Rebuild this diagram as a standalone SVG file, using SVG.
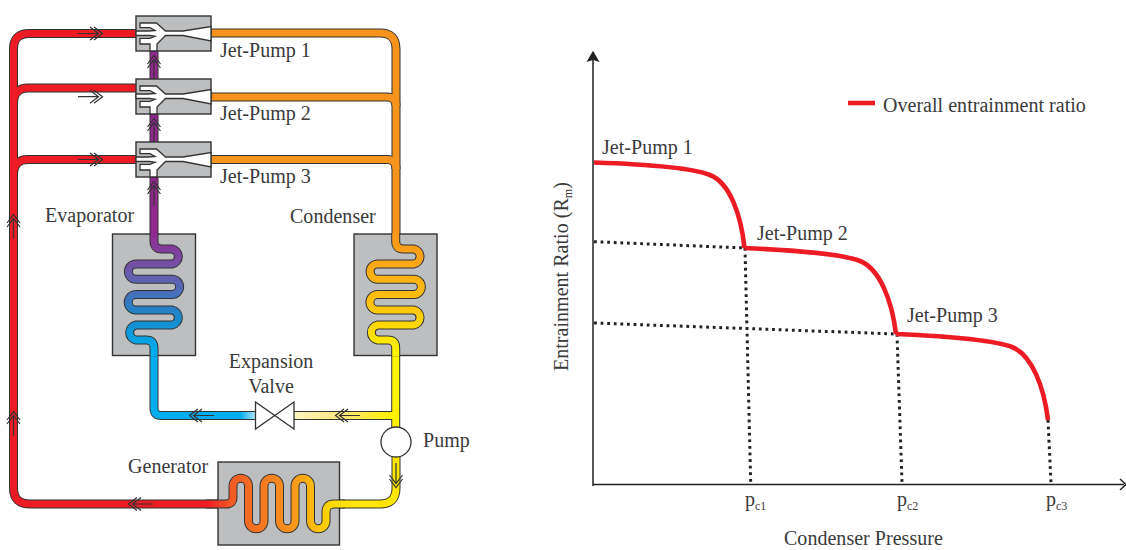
<svg xmlns="http://www.w3.org/2000/svg" xmlns:xlink="http://www.w3.org/1999/xlink" width="1126" height="550" viewBox="0 0 1126 550">
<style>
text{font-family:"Liberation Serif","Times New Roman",serif;font-size:20px;letter-spacing:.03px;fill:#3a3a3a}
.sub{font-size:12px;letter-spacing:0}
.out{fill:none;stroke:#333;stroke-width:9}
.pipe{fill:none;stroke-width:7}
.box{fill:#bcbec0;stroke:#333;stroke-width:1.4}
.dot{fill:none;stroke:#222;stroke-width:3;stroke-dasharray:2.8 3.8}
.curve{fill:none;stroke:#ed1c24;stroke-width:4.6}
.ax{fill:none;stroke:#222;stroke-width:1.5}
.arw{fill:none;stroke:#333;stroke-width:1.2}
</style>
<defs>
<linearGradient id="gGen" gradientUnits="userSpaceOnUse" x1="208" y1="0" x2="335" y2="0"><stop offset="0" stop-color="#ed1c24"/><stop offset=".18" stop-color="#f15a24"/><stop offset=".65" stop-color="#f7941d"/><stop offset="1" stop-color="#ffde00"/></linearGradient>
<linearGradient id="gEva" gradientUnits="userSpaceOnUse" x1="0" y1="232" x2="0" y2="352"><stop offset="0" stop-color="#92278f"/><stop offset=".35" stop-color="#6a5cac"/><stop offset=".7" stop-color="#1c87c9"/><stop offset="1" stop-color="#00aeef"/></linearGradient>
<linearGradient id="gCon" gradientUnits="userSpaceOnUse" x1="0" y1="232" x2="0" y2="352"><stop offset="0" stop-color="#f7941d"/><stop offset=".6" stop-color="#ffc20e"/><stop offset="1" stop-color="#fff200"/></linearGradient>
<linearGradient id="gPale" gradientUnits="userSpaceOnUse" x1="294" y1="0" x2="392" y2="0"><stop offset="0" stop-color="#fdf5c0"/><stop offset=".5" stop-color="#fbe77a"/><stop offset="1" stop-color="#fff200"/></linearGradient>
<linearGradient id="gBlue" gradientUnits="userSpaceOnUse" x1="240" y1="0" x2="256" y2="0"><stop offset="0" stop-color="#00aeef"/><stop offset="1" stop-color="#b5e6f8"/></linearGradient>
<g id="a"><path class="arw" d="M-23 0H-2M-11-6.5L-2.5 0L-11 6.5M-7-6.5L1.5 0L-7 6.5"/></g>
<g id="jet">
<rect class="box" x="136" y="16" width="75" height="35"/>
<path d="M140 23H156.5L165.5 31H183L211 26.5V41L183 35.5H165.5L157 44V51H150V44H140V38.3H150L155 36.2L150 35.5H136V31H148L155 30.5L150 27.7H140Z" fill="#fff" stroke="#333" stroke-width="1.3"/>
</g>
</defs>

<g id="connectors">
<path class="out" d="M218 504H30Q13.5 504 13.5 488V49Q13.5 33.5 29 33.5H136"/>
<path class="out" d="M13.5 104Q13.5 88 28 88H136"/>
<path class="out" d="M13.5 175Q13.5 159.5 28 159.5H136"/>
<path class="out" d="M211 33H380Q396 33 396 49V240"/>
<path class="out" d="M211 97H387Q396 97 396 106"/>
<path class="out" d="M211 159.5H387Q396 159.5 396 169"/>
<path class="out" d="M154 51V79M154 114V142M154 177V240"/>
<path class="out" d="M154 350V408Q154 415.5 161 415.5H256"/>
<path class="out" d="M294 415.5H396M395.7 350V430"/>
<path class="out" d="M396 455V488Q396 504 380 504H335"/>
<path class="pipe" stroke="#ed1c24" d="M218 504H30Q13.5 504 13.5 488V49Q13.5 33.5 29 33.5H136"/>
<path class="pipe" stroke="#ed1c24" d="M13.5 104Q13.5 88 28 88H136"/>
<path class="pipe" stroke="#ed1c24" d="M13.5 175Q13.5 159.5 28 159.5H136"/>
<path class="pipe" stroke="#f7941d" d="M211 33H380Q396 33 396 49V240"/>
<path class="pipe" stroke="#f7941d" d="M211 97H387Q396 97 396 106"/>
<path class="pipe" stroke="#f7941d" d="M211 159.5H387Q396 159.5 396 169"/>
<path class="pipe" stroke="#92278f" d="M154 51V79M154 114V142M154 177V240"/>
<path class="pipe" stroke="#00aeef" d="M154 350V408Q154 415.5 161 415.5H240"/>
<path class="pipe" stroke="url(#gBlue)" d="M239 415.5H256"/>
<path class="pipe" stroke="url(#gPale)" d="M294 415.5H396"/>
<path class="pipe" stroke="#fff200" d="M395.7 350V430"/>
<path class="pipe" stroke="#ffe600" d="M396 455V488Q396 504 380 504H335"/>
<use href="#a" transform="translate(101 33.5)"/>
<use href="#a" transform="translate(101 96.7)"/>
<use href="#a" transform="translate(101 159.5)"/>
<use href="#a" transform="translate(154 57) rotate(-90)"/>
<use href="#a" transform="translate(154 120) rotate(-90)"/>
<use href="#a" transform="translate(154 183) rotate(-90)"/>
<use href="#a" transform="translate(13.5 413) rotate(-90)"/>
<use href="#a" transform="translate(13.5 216) rotate(-90)"/>
<use href="#a" transform="translate(130 504) rotate(180)"/>
<use href="#a" transform="translate(191 415.5) rotate(180)"/>
<use href="#a" transform="translate(337 415.5) rotate(180)"/>
<use href="#a" transform="translate(396 486) rotate(90)"/>
</g>

<g id="jet-pump-1"><use href="#jet"/><text x="220" y="57">Jet-Pump 1</text></g>
<g id="jet-pump-2"><use href="#jet" y="63"/><text x="220" y="120">Jet-Pump 2</text></g>
<g id="jet-pump-3"><use href="#jet" y="126"/><text x="220" y="183">Jet-Pump 3</text></g>

<g id="evaporator">
<rect class="box" x="112.5" y="234" width="83" height="121.5"/>
<path class="out" d="M154 233V241Q154 249 162 249H172A7.6 7.6 0 0 1 172 264H136A7.6 7.6 0 0 0 136 279.2H172A7.6 7.6 0 0 1 172 294.5H136A7.6 7.6 0 0 0 136 310H172A7.6 7.6 0 0 1 172 325H136A7.6 7.6 0 0 0 136 340H146Q154 340 154 348V356"/>
<path class="pipe" stroke="url(#gEva)" d="M154 233V241Q154 249 162 249H172A7.6 7.6 0 0 1 172 264H136A7.6 7.6 0 0 0 136 279.2H172A7.6 7.6 0 0 1 172 294.5H136A7.6 7.6 0 0 0 136 310H172A7.6 7.6 0 0 1 172 325H136A7.6 7.6 0 0 0 136 340H146Q154 340 154 348V356"/>
<text x="45" y="222">Evaporator</text>
</g>

<g id="condenser">
<rect class="box" x="354" y="234" width="83" height="121.5"/>
<path class="out" d="M395.7 233V241Q395.7 249 403.7 249H413.7A7.6 7.6 0 0 1 413.7 264H377.7A7.6 7.6 0 0 0 377.7 279.2H413.7A7.6 7.6 0 0 1 413.7 294.5H377.7A7.6 7.6 0 0 0 377.7 310H413.7A7.6 7.6 0 0 1 413.7 325H377.7A7.6 7.6 0 0 0 377.7 340H387.7Q395.7 340 395.7 348V356"/>
<path class="pipe" stroke="url(#gCon)" d="M395.7 233V241Q395.7 249 403.7 249H413.7A7.6 7.6 0 0 1 413.7 264H377.7A7.6 7.6 0 0 0 377.7 279.2H413.7A7.6 7.6 0 0 1 413.7 294.5H377.7A7.6 7.6 0 0 0 377.7 310H413.7A7.6 7.6 0 0 1 413.7 325H377.7A7.6 7.6 0 0 0 377.7 340H387.7Q395.7 340 395.7 348V356"/>
<text x="290" y="223">Condenser</text>
</g>

<g id="generator">
<rect class="box" x="218" y="462" width="121.5" height="83"/>
<path class="out" d="M206 504H226Q233 504 233 497V486A7.75 7.75 0 0 1 248.5 486V521A7.75 7.75 0 0 0 264 521V486A7.75 7.75 0 0 1 279.5 486V521A7.75 7.75 0 0 0 295 521V486A7.75 7.75 0 0 1 310.5 486V521A7.75 7.75 0 0 0 326 521V512Q326 504 334 504H345"/>
<path class="pipe" stroke="url(#gGen)" d="M206 504H226Q233 504 233 497V486A7.75 7.75 0 0 1 248.5 486V521A7.75 7.75 0 0 0 264 521V486A7.75 7.75 0 0 1 279.5 486V521A7.75 7.75 0 0 0 295 521V486A7.75 7.75 0 0 1 310.5 486V521A7.75 7.75 0 0 0 326 521V512Q326 504 334 504H345"/>
<text x="128" y="473">Generator</text>
</g>

<g id="expansion-valve">
<path d="M255.5 402V429L294 402V429Z" fill="#fff" stroke="#333" stroke-width="1.3"/>
<text x="271" y="367.5" text-anchor="middle">Expansion</text>
<text x="271" y="392.5" text-anchor="middle">Valve</text>
</g>

<g id="pump">
<circle cx="396" cy="442" r="15" fill="#fff" stroke="#333" stroke-width="1.3"/>
<text x="423" y="447">Pump</text>
</g>

<g id="chart">
<path class="ax" d="M593 486V58M593 484.5H1124"/>
<path fill="#222" d="M593 50.7L599.5 62L593 60L586.5 62Z"/>
<path class="ax" d="M1120 479L1126 484.5L1120 490"/>
<path class="dot" d="M594 241.7L745 248M594 323L897 334M745 248L750.7 483M897 334L902 483M1048 420L1051 483"/>
<path class="curve" d="M594 162.5C640 164 692 168 710 175C730 183 741 215 744.5 248"/>
<path class="curve" d="M744.5 248C790 250 842 254 860 261C880 269 892 301 896 334"/>
<path class="curve" d="M896 334C942 336 994 340 1012 347C1032 355 1044 387 1048 420"/>
<path class="curve" d="M848 103H875"/>
<text x="883" y="112">Overall entrainment ratio</text>
<text x="602" y="154">Jet-Pump 1</text>
<text x="757" y="240">Jet-Pump 2</text>
<text x="907" y="322">Jet-Pump 3</text>
<text x="745" y="506">p<tspan class="sub" dy="4">c1</tspan></text>
<text x="897" y="506">p<tspan class="sub" dy="4">c2</tspan></text>
<text x="1046" y="506">p<tspan class="sub" dy="4">c3</tspan></text>
<text x="784" y="545">Condenser Pressure</text>
<text transform="translate(568 371) rotate(-90)">Entrainment Ratio (R<tspan class="sub" dy="4">m</tspan><tspan dy="-4">)</tspan></text>
</g>
</svg>
